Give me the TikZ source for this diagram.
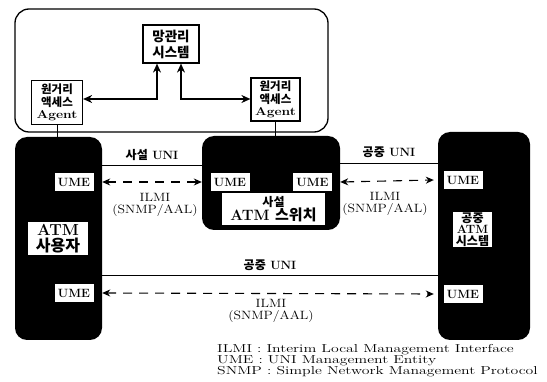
\documentclass[tikz,border=0pt]{standalone}
\usepackage{fontspec}
\newfontfamily\kr{Noto Sans CJK KR}
\usetikzlibrary{arrows.meta,calc}
\newcommand\ilmitext{\scalebox{1.15}[1]{ILMI}\\\scalebox{1.15}[1]{(SNMP/AAL)}}
\begin{document}
\begin{tikzpicture}[x=1pt,y=-1pt,
  blk/.style={fill=black, rounded corners=12pt, inner sep=0pt},
  wbox/.style={draw, line width=1.2pt, fill=white, align=center, inner sep=1pt},
  umebox/.style={draw=black, fill=white, inner sep=0pt, minimum width=40pt, minimum height=19pt, font=\bfseries\fontsize{12}{13}\selectfont},
  lbl/.style={fill=white, inner sep=1pt, align=center},
  txt/.style={inner sep=0pt, align=center},
  conn/.style={line width=1.4pt, {Stealth[length=9pt,width=8pt]}-{Stealth[length=9pt,width=8pt]}},
  dash arrow/.style={line width=1.1pt, dash pattern=on 9pt off 7pt, {Stealth[length=8pt,width=7pt]}-{Stealth[length=8pt,width=7pt]}},
  uni/.style={line width=0.9pt},
  unilbl/.style={txt, font=\bfseries\fontsize{12}{12}\selectfont},
  ilmi/.style={txt, font=\fontsize{12}{11.5}\selectfont},
  tie/.style={line width=0.9pt}]
\useasboundingbox (0,0) rectangle (547,382);

% top frame
\node[draw, line width=1.3pt, rounded corners=14pt, minimum width=313pt, minimum height=123pt, inner sep=0pt] (frame) at (171.5,70.5) {};
\node[wbox, minimum width=56pt, minimum height=38pt, font=\kr\bfseries\fontsize{13.5}{16}\selectfont] (nms) at (171,44) {망관리\\시스템};
\node[wbox, minimum width=51pt, minimum height=44pt, font=\bfseries\fontsize{11.5}{12.5}\selectfont] (agL) at (57,102.5) {{\kr 원거리}\\{\kr 액세스}\\\scalebox{1.2}[1]{Agent}};
\node[wbox, minimum width=49pt, minimum height=43pt, font=\bfseries\fontsize{11.5}{12.5}\selectfont] (agR) at (275.5,99.5) {{\kr 원거리}\\{\kr 액세스}\\\scalebox{1.2}[1]{Agent}};

% black boxes
\node[blk, minimum width=87pt, minimum height=203pt] (user) at (58.5,238.5) {};
\node[blk, minimum width=138pt, minimum height=94pt] (sw) at (271,183) {};
\node[blk, minimum width=92pt, minimum height=208pt] (pub) at (484,236) {};

% agent ties
\draw[tie] (agL.south) -- (agL.south |- user.north);
\draw[tie] (agR.south) -- (agR.south |- sw.north);

% nms arrows
\coordinate (bendL) at (157,99);
\coordinate (bendR) at (181,99);
\draw[conn] ($(nms.south)+(-14,0)$) -- (bendL) -- (agL.east |- bendL);
\draw[conn] ($(nms.south)+(10,0)$) -- (bendR) -- (agR.west |- bendR);

% labels inside black boxes
\node[lbl, minimum width=60pt, minimum height=33pt, font=\bfseries\fontsize{16}{16}\selectfont] (userlbl) at (58,238.5) {ATM\\{\kr 사용자}};
\node[lbl, minimum width=103pt, minimum height=32pt, font=\bfseries\fontsize{15}{14}\selectfont] (swlbl) at (273.5,209) {{\kr\fontsize{12}{12}\selectfont 사설}\\ATM {\kr 스위치}};
\node[lbl, minimum width=39pt, minimum height=35pt, font=\bfseries\fontsize{12}{11.5}\selectfont] (publbl) at (472.5,229.5) {{\kr 공중}\\ATM\\{\kr 시스템}};

% UME boxes
\node[umebox] (umeU1) at (74,182) {UME};
\node[umebox] (umeU2) at (74,293) {UME};
\node[umebox] (umeS1) at (230,182) {UME};
\node[umebox] (umeS2) at (312.5,182) {UME};
\node[umebox] (umeP1) at (463,180) {UME};
\node[umebox] (umeP2) at (463,294) {UME};

% UNI lines
\coordinate (yA) at (0,165);
\coordinate (yB) at (0,163);
\coordinate (yC) at (0,275);
\draw[uni] (user.east |- yA) -- node[unilbl, above=4pt] (privuni) {{\kr 사설} UNI} (sw.west |- yA);
\draw[uni] (sw.east |- yB) -- node[unilbl, above=5pt] (pubuni1) {{\kr 공중} UNI} (pub.west |- yB);
\draw[uni] (user.east |- yC) -- node[unilbl, above=4pt] (pubuni2) {{\kr 공중} UNI} (pub.west |- yC);

% ILMI dashed arrows
\draw[dash arrow] (user.east |- umeU1) -- (sw.west |- umeS1);
\draw[dash arrow] (sw.east |- umeS2) -- ($(pub.west |- umeP1)+(-4,0)$);
\draw[dash arrow] (user.east |- umeU2) -- ($(pub.west |- umeP2)+(-4,0)$);

\node[ilmi] (ilmi1) at (155,205) {\ilmitext};
\node[ilmi] (ilmi2) at (385,204) {\ilmitext};
\node[ilmi] (ilmi3) at (271,311) {\ilmitext};

% legend
\node[txt, anchor=north west, align=left, font=\fontsize{11.5}{11}\selectfont] (legend) at (217,344)
 {\scalebox{1.37}[1]{ILMI : Interim Local Management Interface}\\
  \scalebox{1.37}[1]{UME : UNI Management Entity}\\
  \scalebox{1.37}[1]{SNMP : Simple Network Management Protocol}};
\end{tikzpicture}
\end{document}
